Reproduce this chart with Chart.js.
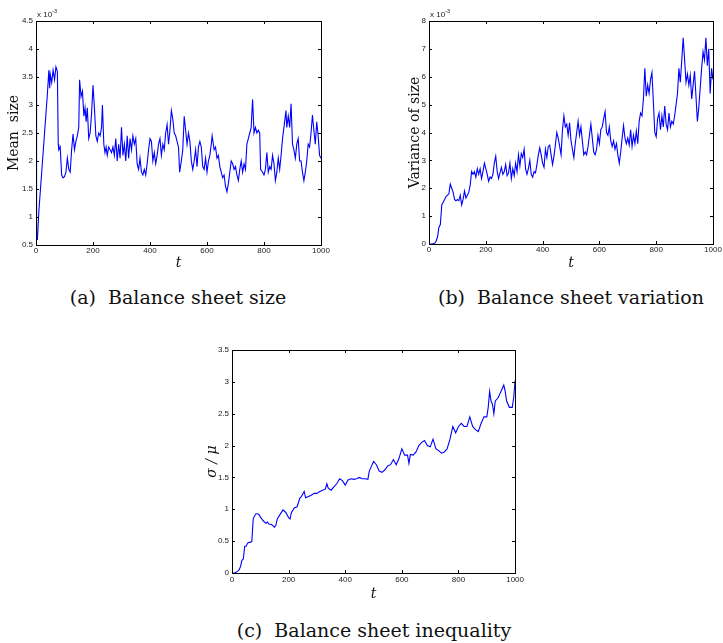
<!DOCTYPE html>
<html><head><meta charset="utf-8">
<script src="https://cdn.jsdelivr.net/npm/chart.js@4.4.1/dist/chart.umd.min.js"></script>
<style>
html,body{margin:0;padding:0;background:#fff}
body{width:723px;height:643px;position:relative;overflow:hidden}
.pane{position:absolute}
.cap{position:absolute;font-family:'DejaVu Serif',serif;font-size:19px;color:#111;white-space:nowrap;transform:translate(-50%,-50%)}
.exp{position:absolute;font-family:'Liberation Sans',Arial,sans-serif;font-size:8px;color:#222;white-space:nowrap}
.exp sup{font-size:5.5px;vertical-align:4px}
</style></head>
<body>
<canvas id="ca" class="pane" width="340" height="280" style="left:0;top:0"></canvas>
<canvas id="cb" class="pane" width="330" height="280" style="left:393px;top:0"></canvas>
<canvas id="cc" class="pane" width="330" height="275" style="left:196px;top:335px"></canvas>
<div class="exp" style="left:37px;top:8px">x 10<sup>-3</sup></div>
<div class="exp" style="left:430px;top:8px">x 10<sup>-3</sup></div>
<div class="cap" style="left:178px;top:297px">(a)&nbsp; Balance sheet size</div>
<div class="cap" style="left:571px;top:297px">(b)&nbsp; Balance sheet variation</div>
<div class="cap" style="left:374px;top:630px">(c)&nbsp; Balance sheet inequality</div>
<script>
// ---- data (a): mean size, units of 1e-3 ----
const tA = [0,2,5,10,20,30,40,45,48,50,55,60,65,70,75,78,80,85,90,95,100,105,110,115,120,125,130,135,140,145,150,153,158,163,168,172,176,180,185,190,195,200,205,210,215,220,225,230,233,238,242,246,250,255,260,265,270,275,280,285,290,295,300,305,310,315,320,325,330,335,340,345,350,355,360,365,370,375,380,385,390,395,400,405,410,415,420,425,430,435,440,445,450,455,460,465,470,475,480,485,490,495,500,504,510,515,520,525,530,535,540,545,550,555,560,565,570,575,580,585,590,595,600,605,610,615,618,625,630,635,640,645,650,655,660,665,670,675,680,685,690,695,700,705,710,715,720,725,730,735,740,745,750,755,760,765,770,775,780,785,788,795,800,805,810,815,820,825,830,835,840,845,850,855,860,865,870,877,880,885,890,895,900,905,910,915,920,925,930,935,940,945,950,955,960,965,970,975,980,985,990,995,1000];
const meanSize = [4.0,0.6,0.6,1.1,1.8,2.5,3.2,3.62,3.3,3.55,3.4,3.62,3.45,3.68,3.6,2.3,2.2,2.25,1.75,1.7,1.72,1.8,2.05,1.85,1.8,2.2,2.48,2.2,2.35,2.45,2.6,3.45,3.15,3.25,2.8,2.95,2.7,2.95,2.4,2.5,2.85,3.35,2.95,2.45,2.35,2.5,2.45,2.6,3.0,2.3,2.15,2.25,2.1,2.25,2.2,2.15,2.25,2.1,2.4,2.0,2.3,2.05,2.6,2.1,2.3,2.0,2.45,2.05,2.4,2.2,2.45,2.3,2.4,1.95,1.85,2.05,1.8,1.75,1.85,1.75,1.95,2.2,2.4,2.35,2.0,2.15,1.95,2.1,2.3,2.4,2.1,2.3,2.2,2.5,2.65,2.3,2.55,2.9,2.75,2.5,2.45,2.35,2.25,1.8,2.0,2.2,2.8,2.55,2.3,2.5,2.35,2.0,1.85,2.0,2.2,1.9,2.25,2.35,2.25,1.9,1.85,2.05,1.8,2.0,2.1,2.3,2.45,2.2,2.25,2.05,2.1,1.9,1.8,1.7,1.75,1.55,1.45,1.6,1.8,2.0,1.95,1.85,1.9,1.75,1.65,1.85,2.0,1.8,1.95,1.85,2.3,2.4,2.5,2.6,3.1,2.5,2.6,2.5,2.55,2.5,1.85,1.8,1.75,1.85,2.15,1.8,1.9,1.85,2.1,1.95,1.65,1.8,2.05,1.85,2.1,2.4,2.6,2.9,2.6,2.8,2.6,3.02,2.3,2.2,2.05,2.3,2.4,2.0,2.0,1.8,1.65,1.8,2.0,2.3,2.25,2.5,2.82,2.55,2.3,2.7,2.45,2.1,2.05];

// ---- data (b): variance of size, units of 1e-3 ----
const tB = [0,10,20,25,30,35,40,45,50,55,60,65,70,75,80,85,90,95,100,105,110,115,120,125,130,135,140,145,150,155,160,165,170,175,180,185,190,195,200,205,210,215,220,225,230,235,240,245,250,255,260,265,270,275,280,285,290,295,300,305,310,315,320,325,330,335,340,345,350,355,360,365,370,375,380,385,390,395,400,405,410,415,420,425,430,435,440,445,450,455,460,465,470,475,480,485,490,495,500,505,510,515,520,525,530,535,540,545,550,555,560,565,570,575,580,585,590,595,600,605,610,615,620,625,630,635,640,645,650,655,660,665,670,675,680,685,690,695,700,705,710,715,720,725,730,735,740,745,750,755,760,765,770,775,780,785,790,795,800,805,810,815,820,825,830,835,840,845,850,855,860,865,870,875,880,885,890,895,900,905,910,915,920,925,930,935,940,945,950,955,960,965,970,975,980,985,990,995,1000];
const varSize = [0,0,0.03,0.1,0.25,0.6,0.7,1.4,1.5,1.6,1.7,1.75,1.8,2.15,2.0,1.85,1.6,1.55,1.6,1.55,1.75,1.4,1.6,1.9,1.65,1.75,1.85,2.1,2.6,2.5,2.6,2.4,2.7,2.5,2.7,2.35,2.6,2.9,2.7,2.5,2.25,2.4,2.35,2.5,2.9,3.15,2.6,2.35,2.55,2.75,2.5,2.6,2.85,2.45,2.55,2.9,2.35,2.7,2.45,2.9,2.6,3.2,2.8,3.25,3.1,3.4,2.7,2.5,2.7,3.0,2.5,2.4,2.6,2.55,2.85,3.2,3.45,3.2,2.9,2.75,3.4,3.1,3.5,3.55,3.2,2.85,3.15,3.55,4.0,3.8,3.5,3.2,4.1,4.6,4.2,4.3,3.9,4.35,3.7,3.4,3.1,3.6,4.0,4.4,3.9,4.2,3.7,3.2,3.3,3.2,3.5,3.9,4.3,3.8,3.3,3.2,3.4,3.9,3.6,4.1,4.2,4.5,4.75,4.0,3.9,4.2,3.7,3.5,3.7,3.4,3.6,3.2,2.9,3.3,3.8,4.25,3.8,3.6,3.8,3.55,4.1,3.5,3.9,3.6,4.05,3.6,4.4,4.7,4.6,5.2,6.3,5.3,5.7,5.4,5.9,6.15,5.1,4.0,3.85,4.5,4.7,4.1,4.6,4.2,4.95,4.3,4.1,4.7,4.2,4.4,4.3,4.6,5.0,5.4,6.3,5.8,6.6,7.4,6.6,5.8,6.1,5.7,6.05,5.2,5.7,6.2,5.3,4.4,4.9,5.6,6.3,6.9,6.6,7.4,6.4,7.0,5.4,6.3,5.9];

// ---- data (c): inequality sigma/mu ----
const tC = [0,10,20,25,30,35,40,45,50,55,60,65,70,75,80,85,90,95,100,110,120,125,130,140,145,150,155,160,170,180,190,200,205,210,220,230,240,245,250,255,260,270,280,290,300,310,320,330,335,340,350,360,370,380,390,400,410,420,430,440,450,460,470,480,485,490,500,510,520,530,540,550,560,570,580,590,600,610,620,625,630,640,650,660,670,680,690,700,710,720,730,740,750,760,770,780,790,800,810,820,830,840,850,860,870,880,890,900,905,910,915,920,925,930,940,950,960,965,970,980,990,995,1000];
const inequality = [0,0,0.03,0.05,0.1,0.2,0.22,0.42,0.42,0.47,0.48,0.48,0.5,0.85,0.9,0.93,0.93,0.92,0.88,0.82,0.78,0.8,0.77,0.76,0.74,0.72,0.75,0.85,0.92,0.99,0.95,0.87,0.85,0.95,1.02,1.04,1.18,1.2,1.24,1.28,1.18,1.2,1.22,1.25,1.25,1.28,1.3,1.32,1.4,1.33,1.3,1.35,1.4,1.48,1.45,1.38,1.46,1.48,1.47,1.48,1.5,1.48,1.48,1.47,1.6,1.65,1.75,1.7,1.6,1.58,1.62,1.68,1.7,1.78,1.7,1.8,1.95,1.85,1.85,1.72,1.86,1.85,1.9,2.0,2.05,2.08,2.0,1.98,2.1,1.95,1.92,1.88,1.9,1.95,2.1,2.3,2.2,2.3,2.35,2.3,2.3,2.45,2.3,2.25,2.22,2.35,2.45,2.45,2.6,2.85,2.7,2.65,2.5,2.7,2.75,2.85,2.95,2.85,2.7,2.6,2.6,2.75,3.02];

const xTicks = [0,200,400,600,800,1000];

const boxPlugin = {
  id:'box',
  afterDatasetsDraw(chart){
    const {ctx, chartArea:a, scales} = chart;
    ctx.save();
    ctx.strokeStyle='#000'; ctx.lineWidth=1;
    ctx.strokeRect(Math.round(a.left)+0.5, Math.round(a.top)+0.5, Math.round(a.right-a.left), Math.round(a.bottom-a.top));
    const L=3;
    ctx.beginPath();
    scales.x.ticks.forEach(t=>{
      const px=Math.round(scales.x.getPixelForValue(t.value))+0.5;
      ctx.moveTo(px,a.bottom); ctx.lineTo(px,a.bottom-L);
      ctx.moveTo(px,a.top); ctx.lineTo(px,a.top+L);
    });
    scales.y.ticks.forEach(t=>{
      const py=Math.round(scales.y.getPixelForValue(t.value))+0.5;
      ctx.moveTo(a.left,py); ctx.lineTo(a.left+L,py);
      ctx.moveTo(a.right,py); ctx.lineTo(a.right-L,py);
    });
    ctx.stroke();
    ctx.restore();
  }
};

const plainNum = v => String(Math.round(v*100)/100);

function makeChart(id, ts, vs, cfg){
  const pts = ts.map((t,i)=>({x:t, y:vs[i]}));
  return new Chart(document.getElementById(id), {
    type:'line',
    data:{datasets:[{data:pts, borderColor:'#0000ff', borderWidth:1.1, pointRadius:0, tension:0, fill:false}]},
    options:{
      responsive:false, animation:false, devicePixelRatio:1,
      plugins:{legend:{display:false}, tooltip:{enabled:false}},
      layout:{padding:cfg.pad},
      scales:{
        x:{type:'linear', min:0, max:1000,
           afterBuildTicks(s){ s.ticks = xTicks.map(v=>({value:v})); },
           ticks:{font:{family:'Liberation Sans', size:8}, color:'#222', padding:cfg.xPad, maxRotation:0, autoSkip:false, callback:plainNum},
           grid:{display:false, drawTicks:false}, border:{display:false},
           title:{display:true, text:'t', color:'#111', font:{family:'DejaVu Serif', style:'italic', size:14}, padding:{top:0,bottom:cfg.xTitlePad}},
           afterFit(s){ s.height = cfg.xH; }},
        y:{type:'linear', min:cfg.yMin, max:cfg.yMax,
           ticks:{stepSize:cfg.yStep, font:{family:'Liberation Sans', size:8}, color:'#222', padding:3, autoSkip:false, callback:plainNum},
           grid:{display:false, drawTicks:false}, border:{display:false},
           title:{display:true, text:cfg.yTitle, color:'#111', font:{family:'DejaVu Serif', size:14, style:cfg.yStyle||'normal'}, padding:{top:cfg.yTitlePad,bottom:0}},
           afterFit(s){ s.width = 36; }}
      }
    },
    plugins:[boxPlugin]
  });
}

makeChart('ca', tA, meanSize, {pad:{left:0,top:21,right:19,bottom:0}, xH:35, xPad:1, xTitlePad:8.6, yMin:0.5, yMax:4.5, yStep:0.5, yTitle:'Mean  size', yTitlePad:6});
makeChart('cb', tB, varSize, {pad:{left:0,top:21,right:10,bottom:0}, xH:36, xPad:1, xTitlePad:8.6, yMin:0, yMax:8, yStep:1, yTitle:'Variance of size', yTitlePad:13.6});
makeChart('cc', tC, inequality, {pad:{left:0,top:15,right:10,bottom:0}, xH:37, xPad:2, xTitlePad:7.6, yMin:0, yMax:3.5, yStep:0.5, yTitle:'σ / μ', yStyle:'italic', yTitlePad:7.6});
</script>
</body></html>
